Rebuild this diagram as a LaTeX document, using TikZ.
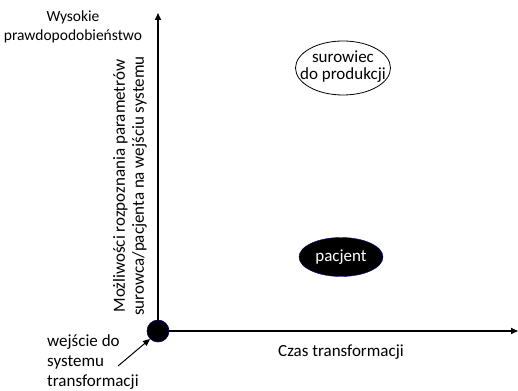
\documentclass[tikz,border=0pt]{standalone}
\usepackage{fontspec}
\setmainfont{Carlito}
\usetikzlibrary{shapes.geometric,arrows.meta,positioning}

\begin{document}
\begin{tikzpicture}[x=1pt,y=-1pt]
\tikzset{axis/.style = {line width=1.6pt, -{Triangle[width=6pt,length=7pt]}},
  blob/.style = {ellipse, inner sep=0pt, align=center, font=\fontsize{17}{17}\selectfont},
  origin/.style = {draw=blue!50!black, circle, fill=black, minimum size=22pt, inner sep=0pt, line width=0.6pt},
  lbl/.style = {align=left, inner sep=0pt, font=\fontsize{17}{20}\selectfont}}
\useasboundingbox (0,0) rectangle (518,390);
\coordinate (o) at (158,331);
\coordinate (ytop) at (158,13);
\coordinate (xend) at (518,331);
\draw[axis] (o) -- (ytop);
\draw[axis] (o) -- (xend);
\node[origin] (start) at (o) {};

% opisy osi
\node[align=center, inner sep=0pt, font=\fontsize{15.5}{19}\selectfont] (high) at (73,27) {Wysokie\\prawdopodobieństwo};
\node[rotate=90, align=center, inner sep=0pt, font=\fontsize{17}{19}\selectfont] (ylab) at (130,186)
  {Możliwości rozpoznania parametrów\\surowca/pacjenta na wejściu systemu};
\node[font=\fontsize{17}{17}\selectfont, inner sep=0pt] (xlab) at (341,352) {Czas transformacji};

% obiekty
\draw[line width=0.8pt] (343,68) ellipse [x radius=47.5pt, y radius=27pt];
\node[blob] (raw) at (343,67) {surowiec\\do produkcji};
\node[blob, draw, fill=black, draw=blue!50!black, text=white, minimum width=84pt, minimum height=39pt] (pat) at (341,257) {pacjent};

% wejscie
\node[lbl, anchor=west] (inlab) at (47,362) {wejście do\\systemu\\transformacji};
\coordinate (tail) at (118,366);
\draw[line width=1pt, -{Triangle[width=6pt,length=7pt]}] (tail) -- (start.-135);
\end{tikzpicture}
\end{document}
